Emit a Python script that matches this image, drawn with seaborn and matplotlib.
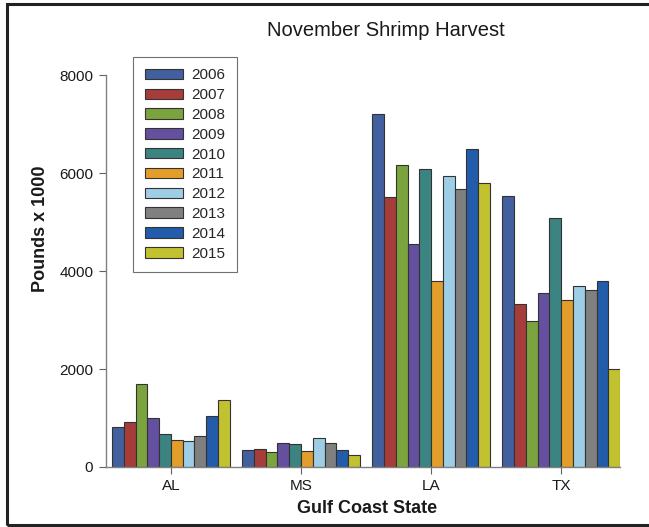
import pandas as pd
import numpy as np
import matplotlib
matplotlib.use("Agg")
import matplotlib.pyplot as plt
import seaborn as sns
from matplotlib.patches import Rectangle

# November shrimp harvest data (pounds x 1000)
states = ['AL', 'MS', 'LA', 'TX']
years = ['2006', '2007', '2008', '2009', '2010', '2011', '2012', '2013', '2014', '2015']

al = [820, 920, 1690, 1000, 680, 545, 525, 635, 1045, 1360]
ms = [355, 375, 305, 490, 465, 325, 595, 480, 340, 245]
la = [7215, 5510, 6160, 4555, 6090, 3805, 5940, 5675, 6505, 5805]
tx = [5540, 3320, 2980, 3545, 5080, 3410, 3695, 3615, 3800, 2000]

colors = ['#42609e', '#a63d3b', '#7ca43e', '#64509f', '#3b8481',
          '#e39d2b', '#9dcee6', '#808080', '#235cab', '#c2c230']

# long format table for seaborn
rows = []
for state, vals in zip(states, [al, ms, la, tx]):
    for yr, v in zip(years, vals):
        rows.append({'state': state, 'year': yr, 'pounds': v})
shrimp = pd.DataFrame(rows)

sns.set_style('white')
plt.rcParams['font.family'] = ['Liberation Sans', 'DejaVu Sans']

fig = plt.figure(figsize=(6.49, 5.27), dpi=100)
ax = fig.add_axes([0.163, 0.114, 0.792, 0.743])

sns.barplot(data=shrimp, x='state', y='pounds', hue='year', palette=colors,
            order=states, hue_order=years, width=0.905, gap=0,
            edgecolor='#333333', linewidth=0.8, saturation=1, ax=ax)

ax.set_xlim(-0.5, 3.45)
ax.set_ylim(0, 8000)
ax.set_yticks([0, 2000, 4000, 6000, 8000])
ax.set_xlabel('')
ax.set_ylabel('')
sns.despine(ax=ax)
for s in ['left', 'bottom']:
    ax.spines[s].set_color('#808080')
    ax.spines[s].set_linewidth(1.0)
ax.tick_params(axis='both', direction='out', length=5, width=0.8,
               color='#606060', labelsize=11, labelcolor='#1a1a1a', pad=4)
ax.tick_params(axis='y', left=True)
ax.tick_params(axis='x', bottom=True)

fig.text(0.595, 0.943, 'November Shrimp Harvest', ha='center', va='center',
         fontsize=14.5, color='#1a1a1a')
fig.text(0.062, 0.565, 'Pounds x 1000', ha='center', va='center',
         rotation=90, fontsize=13, fontweight='bold', color='#1a1a1a')
fig.text(0.566, 0.036, 'Gulf Coast State', ha='center', va='center',
         fontsize=13, fontweight='bold', color='#1a1a1a')

leg = ax.legend(loc='upper left', bbox_to_anchor=(0.205, 0.892),
                bbox_transform=fig.transFigure, fontsize=11, frameon=True,
                fancybox=False, edgecolor='#707070', framealpha=1,
                handlelength=2.5, handleheight=0.68, labelspacing=0.38,
                handletextpad=0.55, borderpad=0.75, borderaxespad=0)
leg.get_frame().set_linewidth(0.8)

# dark frame round the whole picture
fig.patches.append(Rectangle((7 / 649, 2 / 527), 1.0, 523 / 527 - 2 / 527 + 0.0,
                             transform=fig.transFigure, fill=False,
                             edgecolor='#222222', linewidth=2.2, zorder=10))

fig.savefig('out.png', dpi=100)
